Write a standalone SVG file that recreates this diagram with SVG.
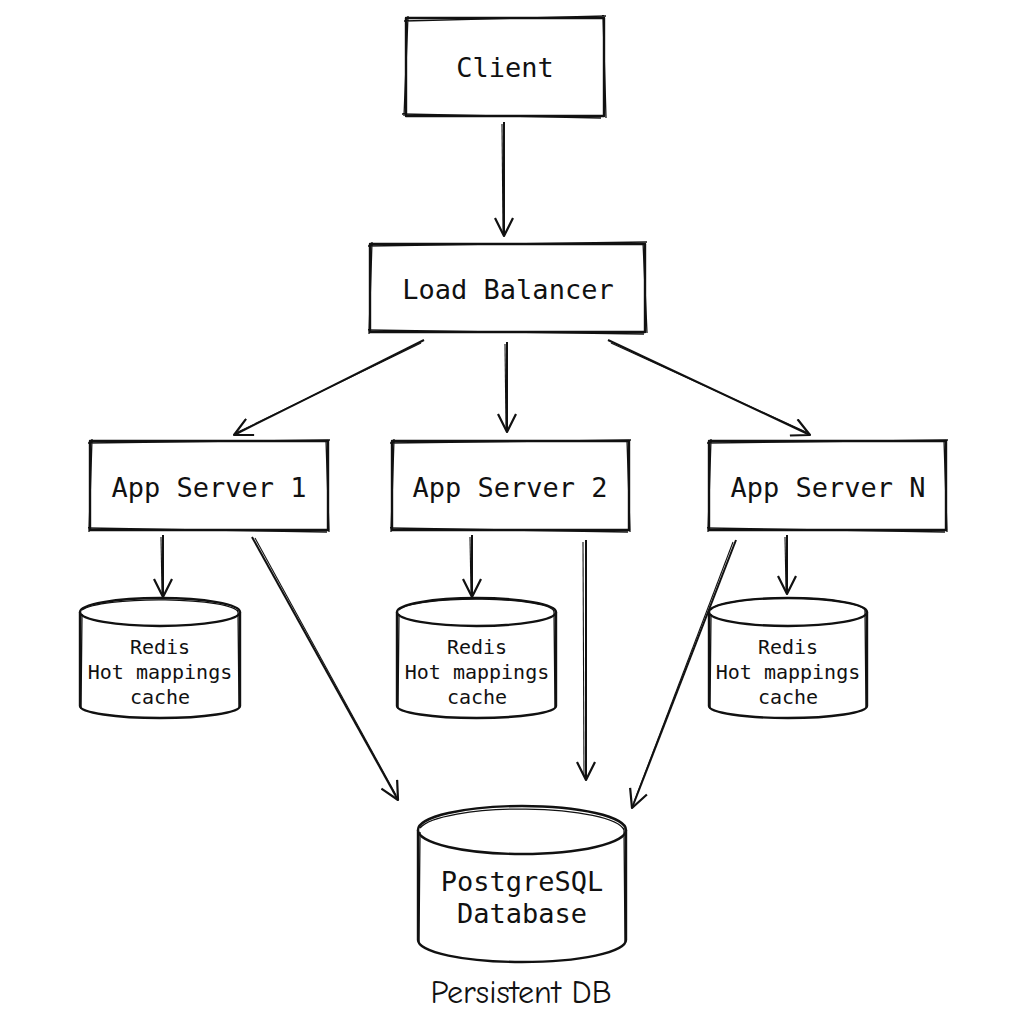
<svg xmlns="http://www.w3.org/2000/svg" width="1024" height="1024" viewBox="0 0 1024 1024">
<style>
.box{fill:#fff;stroke:#111;stroke-width:2.4;stroke-linejoin:round}
.sk{fill:none;stroke:#111;stroke-width:1.3}
.lbl{font-family:"DejaVu Sans Mono","Liberation Mono",monospace;fill:#111;text-anchor:middle}
.big{font-size:27px}
.sm{font-size:20px}
.edge{fill:none;stroke:#111;stroke-width:2;marker-end:url(#ah)}
.edge2{fill:none;stroke:#111;stroke-width:1.1}
</style>
<defs>
<marker id="ah" viewBox="0 0 20 20" refX="19" refY="10" markerWidth="20" markerHeight="20" markerUnits="userSpaceOnUse" orient="auto">
<path d="M1,1 L19,10 L1,19" fill="none" stroke="#111" stroke-width="2.2" stroke-linejoin="round"/>
</marker>
</defs>
<rect width="1024" height="1024" fill="#fff"/>
<g id="connectors">
<path class="edge" d="M504,122 L504,236"/><path class="edge2" d="M502,124 L503,232"/>
<path class="edge" d="M424,340 L234,435"/><path class="edge2" d="M421,343 L238,432"/>
<path class="edge" d="M507,342 L507,432"/><path class="edge2" d="M505,344 L506,428"/>
<path class="edge" d="M608,340 L810,435"/><path class="edge2" d="M611,343 L806,432"/>
<path class="edge" d="M163,535 L163,597"/><path class="edge2" d="M161,537 L162,593"/>
<path class="edge" d="M472,535 L472,597"/><path class="edge2" d="M470,537 L471,593"/>
<path class="edge" d="M787,535 L787,594"/><path class="edge2" d="M785,537 L786,590"/>
<path class="edge" d="M252,537 L398,800"/><path class="edge2" d="M255,538 L396,795"/>
<path class="edge" d="M586,540 L586,780"/><path class="edge2" d="M583,542 L584,776"/>
<path class="edge" d="M736,540 L632,808"/><path class="edge2" d="M733,542 L634,802"/>
</g>
<g id="client">
<rect class="box" x="406" y="18" width="198" height="98"/>
<path class="sk" d="M404,21 L606,16 M603,15 L606,118 M402,114 L601,118 M408,16 L404,116"/>
<text class="lbl big" x="505" y="77">Client</text>
</g>
<g id="lb">
<rect class="box" x="370" y="244" width="275" height="88"/>
<path class="sk" d="M368,246 L647,242 M643,242 L647,333 M368,330 L644,334 M372,242 L369,334"/>
<text class="lbl big" x="508" y="299">Load Balancer</text>
</g>
<g id="as1">
<rect class="box" x="90" y="441" width="238" height="89"/>
<path class="sk" d="M88,443 L330,440 M326,440 L329,532 M88,528 L327,532 M92,439 L89,532"/>
<text class="lbl big" x="209" y="497">App Server 1</text>
</g>
<g id="as2">
<rect class="box" x="392" y="441" width="237" height="89"/>
<path class="sk" d="M390,443 L631,440 M627,440 L630,532 M390,528 L628,532 M394,439 L391,532"/>
<text class="lbl big" x="510" y="497">App Server 2</text>
</g>
<g id="asn">
<rect class="box" x="709" y="441" width="237" height="89"/>
<path class="sk" d="M707,443 L948,440 M944,440 L947,532 M707,528 L945,532 M711,439 L708,532"/>
<text class="lbl big" x="828" y="497">App Server N</text>
</g>
<g id="redis1">
<path class="box" d="M80,612 L80,706 A80,12 0 0 0 240,706 L240,612 A80,14 0 0 0 80,612 Z"/>
<path class="box" d="M80,612 A80,14 0 0 0 240,612"/>
<path class="sk" d="M82,614 L81,709 M238,610 L239,708 M82,610 A79,13 0 0 1 238,612"/>
<text class="lbl sm" x="160" y="654">Redis</text>
<text class="lbl sm" x="160" y="679">Hot mappings</text>
<text class="lbl sm" x="160" y="704">cache</text>
</g>
<g id="redis2">
<path class="box" d="M397,612 L397,706 A79.5,12 0 0 0 556,706 L556,612 A79.5,14 0 0 0 397,612 Z"/>
<path class="box" d="M397,612 A79.5,14 0 0 0 556,612"/>
<path class="sk" d="M399,614 L398,709 M554,610 L555,708 M399,610 A78,13 0 0 1 554,612"/>
<text class="lbl sm" x="477" y="654">Redis</text>
<text class="lbl sm" x="477" y="679">Hot mappings</text>
<text class="lbl sm" x="477" y="704">cache</text>
</g>
<g id="redisn">
<path class="box" d="M709,612 L709,706 A79,12 0 0 0 867,706 L867,612 A79,14 0 0 0 709,612 Z"/>
<path class="box" d="M709,612 A79,14 0 0 0 867,612"/>
<path class="sk" d="M711,614 L710,709 M865,610 L866,708 M711,610 A77,13 0 0 1 865,612"/>
<text class="lbl sm" x="788" y="654">Redis</text>
<text class="lbl sm" x="788" y="679">Hot mappings</text>
<text class="lbl sm" x="788" y="704">cache</text>
</g>
<g id="db">
<path class="box" d="M418,830 L418,940 A104,22 0 0 0 626,940 L626,830 A104,24 0 0 0 418,830 Z"/>
<path class="box" d="M418,830 A104,24 0 0 0 626,830"/>
<path class="sk" d="M420,832 L419,944 M624,828 L625,942 M420,828 A103,23 0 0 1 624,830"/>
<text class="lbl big" x="522" y="891">PostgreSQL</text>
<text class="lbl big" x="522" y="923">Database</text>
<text x="521" y="1003" font-family="'Comic Neue','DejaVu Sans',sans-serif" font-size="32" fill="#111" text-anchor="middle">Persistent DB</text>
</g>
</svg>
